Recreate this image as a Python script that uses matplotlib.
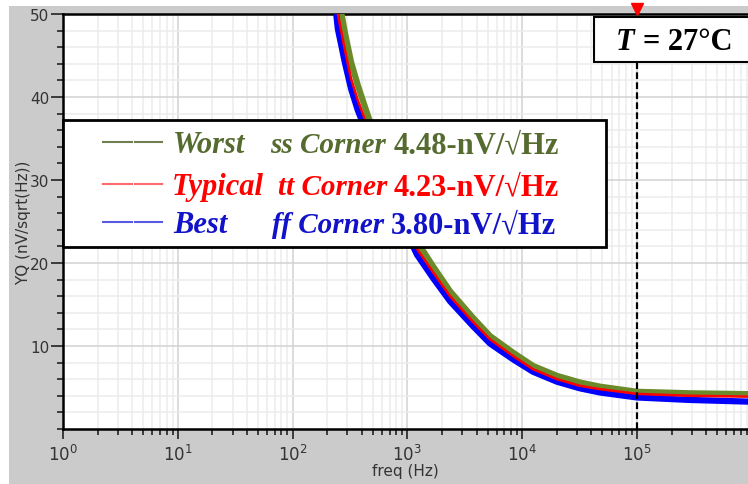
import matplotlib
matplotlib.use('Agg')
import matplotlib.pyplot as plt
from matplotlib.patches import Rectangle
from matplotlib.lines import Line2D
from matplotlib.ticker import MultipleLocator, LogLocator, NullFormatter
import numpy as np

# values
freq = [240, 248, 285, 323, 370, 427, 600, 850, 1213, 1671, 2350, 3725, 5243,
        8320, 12420, 20100, 31860, 47600, 100000, 290000, 930000]
worst_ss = [54.0, 52.4, 47.8, 44.2, 41.4, 38.8, 32.8, 27.4, 22.6, 19.6, 16.6,
            13.4, 11.2, 9.2, 7.6, 6.4, 5.6, 5.1, 4.48, 4.3, 4.2]
typical_tt = [51.5, 50.0, 45.7, 42.2, 39.6, 37.3, 31.6, 26.3, 21.7, 18.9, 16.0,
              12.9, 10.8, 8.8, 7.2, 6.0, 5.2, 4.8, 4.23, 4.0, 3.9]
best_ff = [50.0, 48.2, 44.2, 41.0, 38.4, 36.2, 30.6, 25.5, 21.0, 18.2, 15.4,
           12.4, 10.3, 8.4, 6.9, 5.7, 4.9, 4.4, 3.80, 3.5, 3.3]

legend_names = ['Worst', 'Typical', 'Best']
legend_corners = ['ss Corner', 'tt Corner', 'ff Corner']
legend_values = ['4.48-nV/\u221aHz', '4.23-nV/\u221aHz', '3.80-nV/\u221aHz']
marker_freq = 1e5
temp_label = '= 27\u00b0C'

W, H = 748, 485
fig = plt.figure(figsize=(W / 100, H / 100), dpi=100, facecolor='white')


def fx(px):
    return px / W


def fy(py):
    return 1 - py / H


# gray panel behind the plot
fig.add_artist(Rectangle((fx(9), 0), 1 - fx(9), fy(7), transform=fig.transFigure,
                         facecolor='#cbcbcb', edgecolor='none', zorder=-5))

ax = fig.add_axes([fx(63), fy(430), fx(748) - fx(63), fy(15) - fy(430)])
ax.set_facecolor('white')
ax.set_xscale('log')
ax.set_xlim(1, 9.27e5)
ax.set_ylim(0, 50)

ax.yaxis.set_major_locator(MultipleLocator(10))
ax.yaxis.set_minor_locator(MultipleLocator(2))
ax.set_xticks([1, 10, 100, 1e3, 1e4, 1e5])
ax.xaxis.set_minor_locator(LogLocator(base=10, subs=np.arange(2, 10), numticks=20))
ax.xaxis.set_minor_formatter(NullFormatter())
ax.set_yticks([10, 20, 30, 40, 50])
ax.set_yticklabels(['10', '20', '30', '40', '50'])

ax.grid(which='major', color='#d2d2d2', linewidth=1.1)
ax.grid(which='minor', color='#ececec', linewidth=1.1)
ax.set_axisbelow(True)

for s in ['top', 'bottom', 'left']:
    ax.spines[s].set_linewidth(1.8)
    ax.spines[s].set_color('black')
ax.spines['right'].set_visible(False)

ax.tick_params(which='major', direction='out', length=9, width=1.2, color='#222222',
               labelsize=11, labelcolor='#333333', pad=1)
ax.tick_params(axis='x', which='major', length=7, pad=4, labelsize=12)
ax.tick_params(which='minor', direction='out', length=4, width=1.2, color='#222222')

ax.set_xlabel('freq (Hz)', fontsize=11, color='#333333', labelpad=-1)
ax.set_ylabel('YQ (nV/sqrt(Hz))', fontsize=11, color='#333333')
ax.yaxis.set_label_coords(-0.047, 0.5)

ax.plot(freq, worst_ss, color='#6b8a2a', linewidth=4.5, solid_capstyle='butt', zorder=3)
ax.plot(freq, best_ff, color='#0000ff', linewidth=4.5, solid_capstyle='butt', zorder=3)
ax.plot(freq, typical_tt, color='#ff0000', linewidth=1.8, zorder=4)

# marker line at 100 kHz
ax.axvline(marker_freq, ymin=0, ymax=(430 - 63) / 415, color='black', linewidth=1.6,
           linestyle=(0, (3, 1.5)), zorder=5)
ax.plot([marker_freq], [50.6], marker='v', color='red', markersize=8,
        clip_on=False, zorder=6)

# temperature box
fig.add_artist(Rectangle((fx(594), fy(63)), fx(760) - fx(594), fy(18) - fy(63),
                         transform=fig.transFigure, facecolor='white', edgecolor='black',
                         linewidth=1.5, zorder=6))
serif = ['Liberation Serif', 'DejaVu Serif']
fig.text(fx(616), fy(50), 'T', fontsize=22, fontweight='bold', fontstyle='italic',
         family=serif, va='baseline', ha='left', zorder=7)
fig.text(fx(643), fy(50), temp_label, fontsize=22, fontweight='bold',
         family=serif, va='baseline', ha='left', zorder=7)

# legend box
fig.add_artist(Rectangle((fx(63), fy(248)), fx(606) - fx(63), fy(121) - fy(248),
                         transform=fig.transFigure, facecolor='white', edgecolor='black',
                         linewidth=2, zorder=6))
text_colors = ['#556b2f', '#ff0000', '#1212c8']
line_colors = ['#6f8050', '#ff6a6a', '#5a5ae0']
baselines = [153, 195, 233]
name_x = [173, 172, 173]
corner_x = [270, 278, 272]
value_x = [394, 394, 391]
for i in range(3):
    yb = baselines[i]
    yl = yb - 10
    for x0, x1 in [(103, 132), (135, 162)]:
        fig.add_artist(Line2D([fx(x0), fx(x1)], [fy(yl), fy(yl)], transform=fig.transFigure,
                              color=line_colors[i], linewidth=1.5, zorder=7))
    fig.text(fx(name_x[i]), fy(yb), legend_names[i], fontsize=22, fontweight='bold',
             fontstyle='italic', family=serif, color=text_colors[i], va='baseline', zorder=7)
    fig.text(fx(corner_x[i]), fy(yb), legend_corners[i], fontsize=21, fontweight='bold',
             fontstyle='italic', family=serif, color=text_colors[i], va='baseline', zorder=7)
    fig.text(fx(value_x[i]), fy(yb), legend_values[i], fontsize=22, fontweight='bold',
             family=serif, color=text_colors[i], va='baseline', zorder=7)

fig.savefig('out.png', dpi=100, facecolor='white')
